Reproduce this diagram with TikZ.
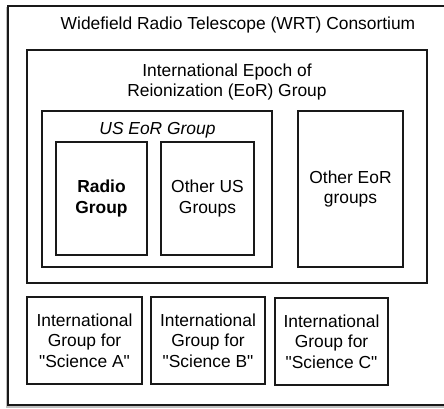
\documentclass[tikz,border=0pt]{standalone}
\usepackage{fontspec}
\setmainfont{Liberation Sans}[Ligatures=TeXOff]
\begin{document}
\begin{tikzpicture}[x=1pt,y=-1pt,
  frame/.style={draw=black!90, line width=1.4pt, fill=white, inner sep=0pt, outer sep=0pt, anchor=north west},
  txt/.style={font=\fontsize{17.4}{20.5}\selectfont, text=black, align=center},
  label/.style={txt, inner sep=0pt, anchor=center}]
\useasboundingbox (0,0) rectangle (444,409);
\fill[white] (0,0) rectangle (444,409);
% consortium frame with a soft shadow to the lower left
\fill[black!25] (5.5,7.5) rectangle (452,407.5);
\fill[black!80] (6.8,7) rectangle (452,406.3);
\node[frame, minimum width=444pt, minimum height=399pt] (wrt) at (8,6) {};
\node[label] (wrtT) at (238,25) {Widefield Radio Telescope (WRT) Consortium};
% international EoR group
\node[frame, minimum width=400pt, minimum height=233pt] (eor) at (27,50) {};
\node[label] (eorT) at (227,82) {International Epoch of\\Reionization (EoR) Group};
% US EoR group
\node[frame, minimum width=230pt, minimum height=156pt] (us) at (42,111) {};
\node[label, font=\fontsize{17.4}{20.5}\selectfont\itshape] (usT) at (157.5,130) {US EoR Group};
\node[frame, txt, minimum width=91pt, minimum height=113pt] (radio) at (56,142) {\bfseries Radio\\\bfseries Group};
\node[frame, txt, minimum width=93pt, minimum height=113pt] (otherus) at (161,142) {Other US\\Groups};
\node[frame, txt, minimum width=105pt, minimum height=156pt] (othereor) at (298,111) {Other EoR\\groups};
% science groups
\node[frame, txt, minimum width=115pt, minimum height=87pt] (sciA) at (27,297) {International\\Group for\\"Science A"};
\node[frame, txt, minimum width=114pt, minimum height=87pt] (sciB) at (151,297) {International\\Group for\\"Science B"};
\node[frame, txt, minimum width=113pt, minimum height=87pt] (sciC) at (275,298) {International\\Group for\\"Science C"};
\end{tikzpicture}
\end{document}
